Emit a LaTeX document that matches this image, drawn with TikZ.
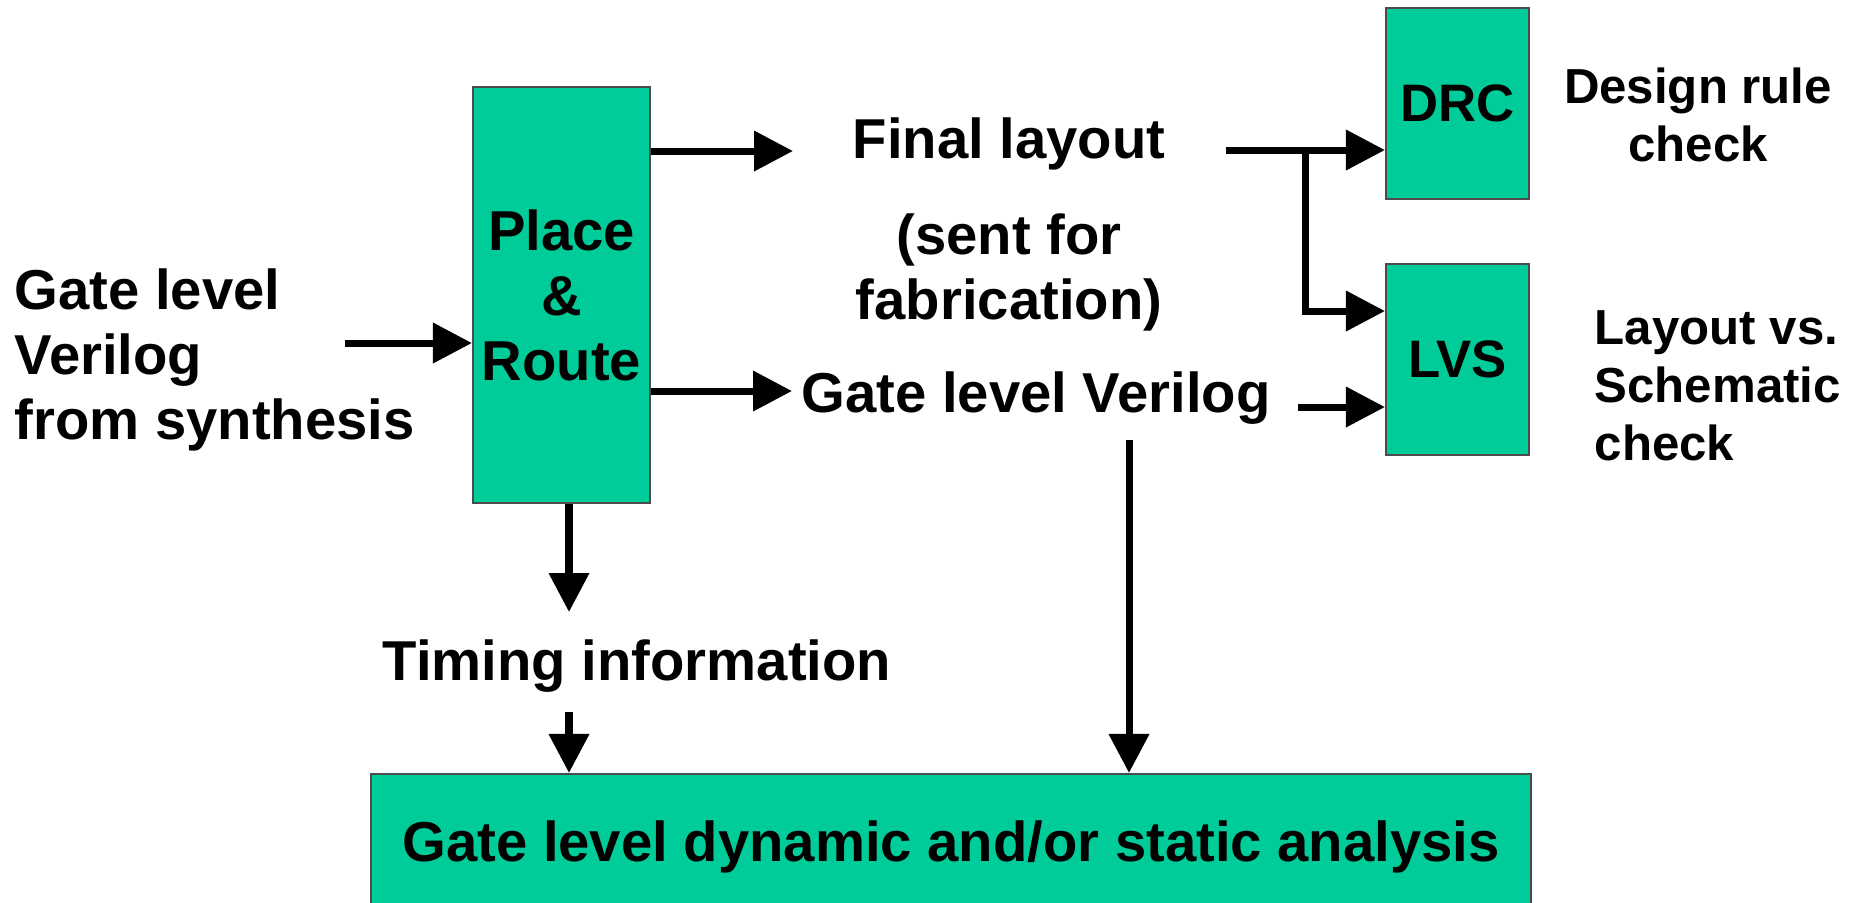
\documentclass[tikz,border=0pt]{standalone}
\usepackage{fontspec}
\setmainfont{Liberation Sans}
\usetikzlibrary{arrows.meta}
\definecolor{boxgreen}{RGB}{0,204,153}

\begin{document}
\begin{tikzpicture}[
    box/.style={draw=black!70, line width=0.6pt, fill=boxgreen, font=\bfseries\fontsize{16pt}{18.5pt}\selectfont, align=center, inner sep=0pt},
    lbl/.style={font=\bfseries\fontsize{16pt}{18.5pt}\selectfont, align=center, inner sep=0pt},
    smalllbl/.style={font=\bfseries\fontsize{14pt}{16.5pt}\selectfont, inner sep=0pt},
    arr/.style={line width=2pt, -{Triangle[length=3.9mm, width=3.9mm]}}
]
    \path[use as bounding box, clip] (0, 0) rectangle (18.54, -9.02);

    \node[box, minimum width=1.77cm, minimum height=4.16cm] (pr) at (5.615, -2.95) {Place\\\&\\Route};
    \node[box, minimum width=1.43cm, minimum height=1.91cm, font=\bfseries\fontsize{15pt}{17pt}\selectfont] (drc) at (14.575, -1.035) {DRC};
    \node[box, minimum width=1.43cm, minimum height=1.91cm, font=\bfseries\fontsize{15pt}{17pt}\selectfont] (lvs) at (14.575, -3.595) {LVS};
    \node[box, minimum width=11.6cm, minimum height=1.46cm] (ana) at (9.51, -8.47) {Gate level dynamic and/or static analysis};

    \node[lbl, align=left, anchor=west] (src) at (0.14, -3.60) {Gate level\\Verilog\\from synthesis};
    \node[lbl] (fl) at (10.09, -1.44) {Final layout};
    \node[lbl] (sent) at (10.09, -2.72) {(sent for\\fabrication)};
    \node[lbl, inner sep=1mm] (glv) at (10.36, -3.98) {Gate level Verilog};
    \node[lbl] (tim) at (6.37, -6.66) {Timing information};
    \node[smalllbl, align=center] (drt) at (16.98, -1.15) {Design rule\\check};
    \node[smalllbl, align=left, anchor=west] (lvt) at (15.94, -3.86) {Layout vs.\\Schematic\\check};

    \coordinate (in) at (3.45, -3.43);
    \coordinate (flin) at (7.93, -1.51);
    \coordinate (glvin) at (7.92, -3.91);
    \coordinate (flout) at (12.26, -1.50);
    \coordinate (br) at (13.05, -1.50);
    \coordinate (glvout) at (12.98, -4.07);
    \coordinate (glvdn) at (11.29, -4.40);
    \coordinate (timin) at (5.69, -6.12);
    \coordinate (timout) at (5.69, -7.12);

    \draw[arr] (in) -- (in -| pr.west);
    \draw[arr] (pr.east |- flin) -- (flin);
    \draw[arr] (pr.east |- glvin) -- (glvin);
    \draw[arr] (flout) -- (flout -| drc.west);
    \draw[arr] (br) |- ([yshift=4.85mm]lvs.west);
    \draw[arr] (glvout) -- (glvout -| lvs.west);
    \draw[arr] (glvdn) -- (glvdn |- ana.north);
    \draw[arr] (timin |- pr.south) -- (timin);
    \draw[arr] (timout) -- (timout |- ana.north);
\end{tikzpicture}
\end{document}
